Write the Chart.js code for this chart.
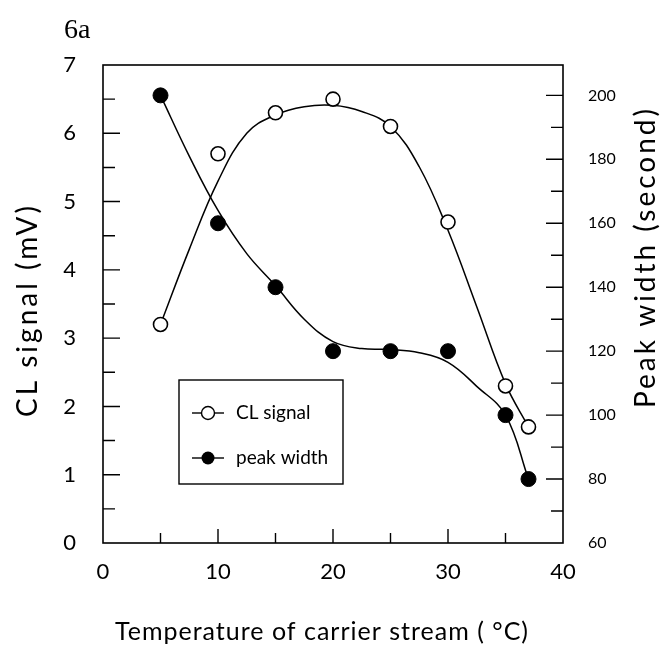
<!DOCTYPE html>
<html><head><meta charset="utf-8">
<script src="https://cdn.jsdelivr.net/npm/chart.js@4.4.1/dist/chart.umd.min.js"></script>
<style>html,body{margin:0;padding:0;background:#fff}#wrap{width:665px;height:650px}</style>
</head><body><div id="wrap"><canvas id="c" width="665" height="650"></canvas></div>
<script>
// ---- data ----
const temperatures = [5, 10, 15, 20, 25, 30, 35, 37];
const clSignal     = [3.2, 5.7, 6.3, 6.5, 6.1, 4.7, 2.3, 1.7];
const peakWidth    = [200, 160, 140, 120, 120, 120, 100, 80];
// fitted curves at these temperatures
const curveTemps   = [5, 7.5, 10, 12.5, 15, 17.5, 20, 22.5, 25, 27.5, 30, 32.5, 35, 37];
const clCurve      = [3.2, 4.3, 5.3, 6.0, 6.27, 6.39, 6.41, 6.32, 6.10, 5.51, 4.58, 3.46, 2.33, 1.7];
const peakCurve    = [200, 181, 164, 150.5, 140.5, 130, 123, 120.8, 120.5, 119.5, 116.5, 109, 100, 80];
const xTicks       = [0, 10, 20, 30, 40];
const leftTicks    = [0, 1, 2, 3, 4, 5, 6, 7];
const rightTicks   = [60, 80, 100, 120, 140, 160, 180, 200];
const seriesNames  = ['CL signal', 'peak width'];
const xTitle = 'Temperature of carrier stream ( °C)';
const yTitle = 'CL signal (mV)';
const y1Title = 'Peak width (second)';

const FONT = 'Lato, "Open Sans", sans-serif';

const pts = (xs, ys) => xs.map((x, i) => ({x, y: ys[i]}));

const decor = {
  id: 'decor',
  beforeDraw(chart) {
    const c = chart.ctx;
    c.save(); c.fillStyle = '#fff'; c.fillRect(0, 0, chart.width, chart.height); c.restore();
  },
  afterDatasetsDraw(chart) {
    const c = chart.ctx, a = chart.chartArea;
    const sx = chart.scales.x, sl = chart.scales.y, sr = chart.scales.y1;
    c.save();
    c.strokeStyle = '#000'; c.lineWidth = 1.6;
    c.strokeRect(a.left, a.top, a.right - a.left, a.bottom - a.top);
    c.lineWidth = 1.4;
    c.beginPath();
    for (let v = sl.min + 0.5; v < sl.max; v += 0.5) {
      const y = sl.getPixelForValue(v);
      const len = Math.abs(v - Math.round(v)) < 1e-6 ? 17 : 12;
      c.moveTo(a.left, y); c.lineTo(a.left + len, y);
    }
    for (let v = 70; v < sr.max; v += 10) {
      const y = sr.getPixelForValue(v);
      const len = v % 20 === 0 ? 17 : 12;
      c.moveTo(a.right, y); c.lineTo(a.right - len, y);
    }
    for (let v = 5; v < sx.max; v += 5) {
      const x = sx.getPixelForValue(v);
      const len = v % 10 === 0 ? 14 : 10;
      c.moveTo(x, a.bottom); c.lineTo(x, a.bottom - len);
    }
    c.stroke();

    c.fillStyle = '#000';
    // panel label
    c.font = '28px "Liberation Serif", serif';
    c.textBaseline = 'alphabetic'; c.textAlign = 'left';
    c.fillText('6a', 64, 38);

    // axis titles
    c.textAlign = 'center'; c.textBaseline = 'middle';
    const midY = (a.top + a.bottom) / 2 + 6;
    c.font = '28px ' + FONT;
    c.letterSpacing = '3px';
    c.save(); c.translate(28, midY); c.rotate(-Math.PI / 2); c.fillText(yTitle, 0, 0); c.restore();
    c.save(); c.translate(646, (a.top + a.bottom) / 2 - 47); c.rotate(-Math.PI / 2); c.fillText(y1Title, 0, 0); c.restore();
    c.font = '25px ' + FONT;
    c.letterSpacing = '1px';
    c.fillText(xTitle, 322, 632);
    c.letterSpacing = '0px';

    // legend box
    const bx = 179, by = 380, bw = 164, bh = 104;
    c.lineWidth = 1.4;
    c.strokeRect(bx, by, bw, bh);
    const rows = [by + 33, by + 78];
    c.font = '19px ' + FONT;
    c.textAlign = 'left'; c.textBaseline = 'middle';
    rows.forEach((ry, i) => {
      c.beginPath(); c.lineWidth = 1.4;
      c.moveTo(bx + 13, ry); c.lineTo(bx + 45, ry); c.stroke();
      c.beginPath();
      c.arc(bx + 29, ry, 6.5, 0, Math.PI * 2);
      if (i === 0) { c.fillStyle = '#fff'; c.fill(); c.stroke(); }
      else { c.fillStyle = '#000'; c.fill(); }
      c.fillStyle = '#000';
      c.fillText(seriesNames[i], bx + 57, ry);
    });
    c.restore();
  }
};

new Chart(document.getElementById('c'), {
  type: 'scatter',
  data: {
    datasets: [
      { label: seriesNames[0], data: pts(temperatures, clSignal), yAxisID: 'y', order: 0,
        showLine: false, pointRadius: 7, pointBackgroundColor: '#fff', pointBorderColor: '#000', pointBorderWidth: 1.6 },
      { label: seriesNames[1], data: pts(temperatures, peakWidth), yAxisID: 'y1', order: 0,
        showLine: false, pointRadius: 7.5, pointBackgroundColor: '#000', pointBorderColor: '#000', pointBorderWidth: 1 },
      { label: 'CL fit', data: pts(curveTemps, clCurve), yAxisID: 'y', order: 1,
        showLine: true, pointRadius: 0, borderColor: '#000', borderWidth: 1.5, tension: 0.4 },
      { label: 'peak fit', data: pts(curveTemps, peakCurve), yAxisID: 'y1', order: 1,
        showLine: true, pointRadius: 0, borderColor: '#000', borderWidth: 1.5, tension: 0.4 }
    ]
  },
  options: {
    responsive: false, animation: false, devicePixelRatio: 1,
    layout: { padding: { top: 65, left: 0, right: 0, bottom: 0 } },
    plugins: { legend: { display: false }, tooltip: { enabled: false } },
    scales: {
      x: {
        type: 'linear', min: 0, max: 40,
        afterFit: s => { s.height = 107; },
        afterBuildTicks: s => { s.ticks = xTicks.map(v => ({ value: v })); },
        grid: { display: false, drawTicks: false }, border: { display: false },
        ticks: { color: '#000', font: { family: FONT, size: 22 }, padding: 16, maxRotation: 0 },
        title: { display: false, text: xTitle }
      },
      y: {
        type: 'linear', position: 'left', min: 0, max: 7,
        afterFit: s => { s.width = 103; },
        afterBuildTicks: s => { s.ticks = leftTicks.map(v => ({ value: v })); },
        grid: { display: false, drawTicks: false }, border: { display: false },
        ticks: { color: '#000', font: { family: FONT, size: 22 }, padding: 27 },
        title: { display: false, text: yTitle }
      },
      y1: {
        type: 'linear', position: 'right', min: 60, max: 209.5,
        afterFit: s => { s.width = 102; },
        afterBuildTicks: s => { s.ticks = rightTicks.map(v => ({ value: v })); },
        grid: { display: false, drawTicks: false }, border: { display: false },
        ticks: { color: '#000', font: { family: FONT, size: 16 }, padding: 25 },
        title: { display: false, text: y1Title }
      }
    }
  },
  plugins: [decor]
});
</script>
</body></html>
